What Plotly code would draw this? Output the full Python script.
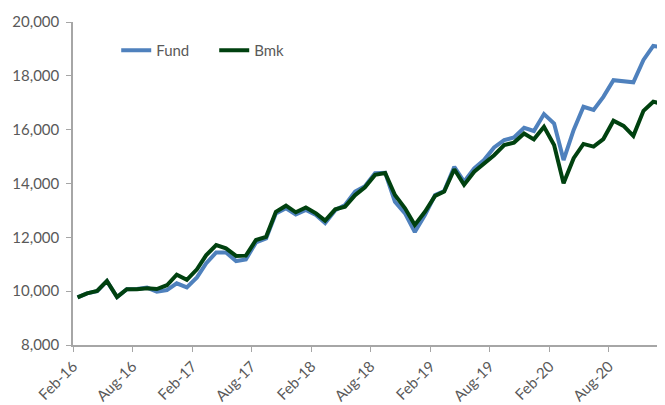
import plotly.graph_objects as go
import pandas as pd

months = pd.date_range("2016-02-01", periods=60, freq="MS") + pd.Timedelta(days=14)
dates = [d.strftime("%Y-%m-%d") for d in months]

fund = [9770, 9920, 10000, 10370, 9780, 10070, 10080, 10130, 9980, 10040,
        10290, 10140, 10510, 11030, 11440, 11440, 11120, 11180, 11810, 11960,
        12890, 13080, 12850, 13020, 12830, 12530, 13010, 13200, 13700, 13900,
        14380, 14400, 13320, 12890, 12200, 12830, 13570, 13720, 14620, 14070,
        14560, 14870, 15340, 15610, 15710, 16070, 15950, 16580, 16230, 14870,
        15990, 16850, 16730, 17220, 17840, 17800, 17760, 18590, 19110, 19060]

bmk = [9770, 9920, 10010, 10380, 9780, 10070, 10070, 10110, 10080, 10220,
       10610, 10420, 10810, 11330, 11715, 11590, 11310, 11320, 11900, 12020,
       12950, 13176, 12930, 13110, 12890, 12620, 13040, 13140, 13570, 13860,
       14320, 14390, 13570, 13080, 12460, 12950, 13540, 13700, 14530, 13950,
       14440, 14750, 15050, 15430, 15520, 15860, 15640, 16110, 15430, 14005,
       14940, 15470, 15370, 15650, 16330, 16140, 15770, 16700, 17040, 16950]

series_names = ["Fund", "Bmk"]
series_colors = ["#4F81BD", "#00410F"]

fig = go.Figure()
for name, vals, col in zip(series_names, [fund, bmk], series_colors):
    fig.add_trace(go.Scatter(x=dates, y=vals, mode="lines", name=name,
                             line=dict(color=col, width=4)))

font_fam = "Lato"
txt = "#595959"
axcol = "#A6A6A6"

fig.update_layout(
    width=657, height=397,
    margin=dict(l=65, r=0, t=14, b=60, autoexpand=False),
    plot_bgcolor="white", paper_bgcolor="white",
    font=dict(family=font_fam, size=15, color=txt),
    showlegend=True,
    legend=dict(orientation="h", x=0.073, y=0.912, xanchor="left", yanchor="middle",
                bgcolor="rgba(0,0,0,0)", font=dict(size=15, color=txt),
                entrywidth=53, itemwidth=30),
    xaxis=dict(type="date", range=["2016-02-01", "2021-01-20"],
               tick0="2016-02-01", dtick="M6", tickformat="%b-%y",
               tickangle=-45, showgrid=False, zeroline=False, automargin=False,
               showline=True, linecolor=axcol, linewidth=1.5,
               ticks="outside", ticklen=5, tickcolor=axcol,
               tickfont=dict(size=15, color=txt)),
    yaxis=dict(range=[8000, 20000], tickvals=[8000, 10000, 12000, 14000, 16000, 18000, 20000],
               tickformat=",d", showgrid=False, zeroline=False, automargin=False,
               showline=True, linecolor=axcol, linewidth=1.5,
               ticks="outside", ticklen=5, tickcolor=axcol,
               ticklabelstandoff=4,
               tickfont=dict(size=15, color=txt)),
)

fig.write_html("out.html")
